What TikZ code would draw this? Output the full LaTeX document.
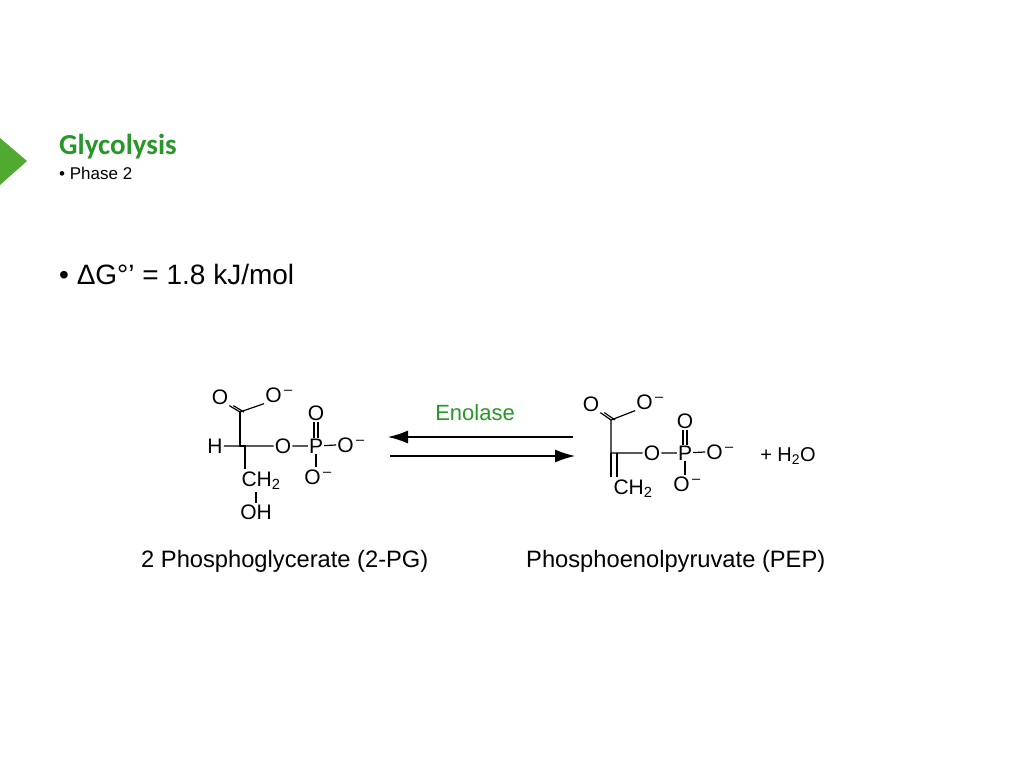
\documentclass[tikz,border=0pt]{standalone}
\usepackage{fontspec}
\setmainfont{Liberation Sans}
\newfontfamily\carfont{Carlito}
\usetikzlibrary{arrows.meta}
\definecolor{gr}{RGB}{40,150,40}
\definecolor{tri}{RGB}{80,170,50}
\newcommand{\myneg}{\textsuperscript{\,–}}
\begin{document}
\begin{tikzpicture}[x=1pt,y=-1pt,
 atm/.style={inner sep=1pt,font=\fontsize{21}{21}\selectfont},
 bd/.style={line width=1.2pt},
 lab/.style={font=\fontsize{23.7}{24}\selectfont,anchor=west},
 rx/.style={line width=1.3pt,-{Latex[length=20pt,width=13pt]}}]
\useasboundingbox (0,0) rectangle (1024,768);
\fill[tri] (0,138) -- (27,161) -- (0,185) -- cycle;
\node[anchor=west,inner sep=0,text=gr,font=\carfont\bfseries\fontsize{29}{29}\selectfont] (t) at (59,147) {Glycolysis};
\node[anchor=west,inner sep=0,font=\fontsize{17}{17}\selectfont] (p) at (59,173) {• Phase 2};
\node[anchor=west,inner sep=0,font=\fontsize{28}{28}\selectfont] (dg) at (59,274) {• ΔG°’ = 1.8 kJ/mol};
% left molecule
\coordinate (c1) at (240,412);
\coordinate (c2) at (240,446);
\node[atm] (o1) at (220,397) {O};
\node[atm] (o2) at (279,395) {O\myneg};
\node[atm] (h) at (215,446) {H};
\node[atm] (o3) at (283,446) {O};
\node[atm] (p1) at (316,446) {P};
\node[atm] (o4) at (351,445) {O\myneg};
\node[atm] (o5) at (316,413) {O};
\node[atm] (o6) at (318,477) {O\myneg};
\node[atm] (ch) at (261,481) {CH\textsubscript{2}};
\node[atm] (oh) at (256,512) {OH};
\draw[bd] (c1)--(c2)--(245,446)--(245,469);
\draw[bd] (c1)--(o2.south west);
\draw[bd] (c1)--(o1.south east); \draw[bd] ([xshift=4pt]c1)--([xshift=4pt]o1.south east);
\draw[bd] (h)--(c2)--(o3)--(p1)--(o4.west);
\draw[bd] ([xshift=-2pt]p1.north)--([xshift=-2pt]o5.south); \draw[bd] ([xshift=2pt]p1.north)--([xshift=2pt]o5.south);
\draw[bd] (p1)--(316,467);
\draw[bd] (256,492)--(256,503);
% arrows
\draw[rx] (573,437)--(388,437);
\draw[rx] (390,456)--(575,456);
\node[atm,text=gr,font=\fontsize{22}{22}\selectfont] (en) at (475,413) {Enolase};
% right molecule
\coordinate (d1) at (611,420);
\coordinate (d2) at (611,453);
\node[atm] (q1) at (591,404) {O};
\node[atm] (q2) at (650,402) {O\myneg};
\node[atm] (q3) at (652,453) {O};
\node[atm] (p2) at (685,453) {P};
\node[atm] (q4) at (720,452) {O\myneg};
\node[atm] (q5) at (685,421) {O};
\node[atm] (q6) at (687,484) {O\myneg};
\node[atm] (ch2) at (633,489) {CH\textsubscript{2}};
\draw[bd] (d1)--(d2)--(q3)--(p2)--(q4.west);
\draw[bd] (d1)--(q2.south west);
\draw[bd] (d1)--(q1.south east); \draw[bd] ([xshift=4pt]d1)--([xshift=4pt]q1.south east);
\draw[bd] (d2)--(611,477); \draw[bd] (617,453)--(617,477);
\draw[bd] ([xshift=-2pt]p2.north)--([xshift=-2pt]q5.south); \draw[bd] ([xshift=2pt]p2.north)--([xshift=2pt]q5.south);
\draw[bd] (p2)--(685,475);
\node[atm,font=\fontsize{20}{20}\selectfont] (w) at (788,456) {+ H\textsubscript{2}O};
\node[lab,inner sep=0] (l1) at (141,561) {2 Phosphoglycerate (2-PG)};
\node[lab,inner sep=0] (l2) at (526,561) {Phosphoenolpyruvate (PEP)};
\end{tikzpicture}
\end{document}
